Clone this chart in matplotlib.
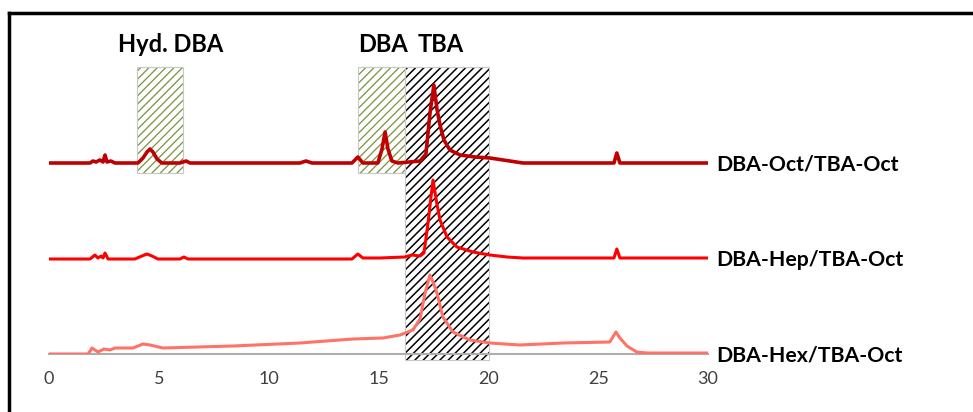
import matplotlib
matplotlib.use("Agg")
import matplotlib.pyplot as plt
from matplotlib.patches import Rectangle
from matplotlib.lines import Line2D

##################################
######## Data (read off) #########
##################################

# retention time (min) and detector signal (offset already applied per trace)
oct_x = [0.0, 1.87, 2.0, 2.14, 2.32, 2.46, 2.55, 2.64, 2.82, 3.0, 4.05, 4.28, 4.46, 4.6, 4.73,
         4.92, 5.14, 5.96, 6.24, 6.42, 11.42, 11.7, 11.97, 13.79, 14.06, 14.29, 14.97, 15.16,
         15.3, 15.43, 15.61, 15.89, 16.89, 17.16, 17.34, 17.52, 17.66, 17.8, 17.98, 18.25,
         18.71, 19.39, 20.07, 20.98, 21.57, 25.72, 25.85, 25.99, 30.0]
oct_y = [191, 191, 193, 192, 194, 192, 199, 192, 193, 191, 191, 196, 202, 205, 202,
         195, 191, 191, 193, 191, 191, 193, 191, 191, 197, 191, 191, 205,
         222, 205, 193, 191, 193, 200, 240, 269, 245, 229, 214, 204,
         199, 197, 196, 193, 191, 191, 201, 191, 191]

hep_x = [0.0, 1.87, 2.09, 2.23, 2.37, 2.46, 2.55, 2.69, 3.91, 4.23, 4.46, 4.69, 4.96, 5.96,
         6.14, 6.33, 13.79, 14.06, 14.29, 15.07, 16.2, 16.52, 16.89, 17.07, 17.25, 17.48,
         17.66, 17.8, 18.12, 18.57, 19.3, 20.07, 20.85, 21.57, 25.72, 25.85, 25.99, 30.0]
hep_y = [95, 95, 99, 96, 98, 96, 101, 95, 95, 98, 100, 98, 95, 95,
         97, 95, 95, 100, 96, 96, 97, 99, 98, 101, 130, 174,
         150, 134, 117, 107, 102, 99, 97, 96, 96, 105, 96, 96]

hex_x = [0.0, 1.78, 1.96, 2.23, 2.5, 2.78, 3.0, 3.82, 4.28, 4.6, 5.19, 8.37, 11.42, 13.84,
         15.2, 15.98, 16.57, 16.89, 17.11, 17.34, 17.52, 17.66, 17.93, 18.39, 19.16, 20.07,
         21.44, 23.4, 25.53, 25.81, 25.99, 26.31, 26.76, 27.22, 30.0]
hex_y = [0, 0, 6, 2, 5, 4, 6, 6, 10, 9, 6, 8, 11, 15,
         16, 19, 24, 35, 60, 79, 70, 61, 37, 22, 14, 11,
         9, 11, 12, 22, 16, 8, 2, 1, 1]

trace_names = ["DBA-Oct/TBA-Oct", "DBA-Hep/TBA-Oct", "DBA-Hex/TBA-Oct"]
trace_colors = ["#C00000", "#FF0000", "#FF7268"]

# highlighted windows (start, end) in minutes
hyd_dba_win = (4.0, 6.1)
dba_win = (14.05, 16.2)
tba_win = (16.2, 20.03)

x_ticks = [0, 5, 10, 15, 20, 25, 30]

##################################
############ Plotting ############
##################################

plt.rcParams["font.family"] = ["Lato", "DejaVu Sans"]

fig = plt.figure(figsize=(9.73, 4.12), dpi=100)
ax = fig.add_axes([49 / 973, 1 - 354 / 412, 659 / 973, 324 / 412])
ax.set_xlim(0, 30)
ax.set_ylim(0, 324)


def hatch_box(x0, x1, y0, y1, color, lw):
    # hatch drawn in its own colour, then a thin grey outline on top
    plt.rcParams["hatch.linewidth"] = lw
    ax.add_patch(Rectangle((x0, y0), x1 - x0, y1 - y0, facecolor="white",
                           edgecolor=color, hatch="////", linewidth=0,
                           clip_on=False, zorder=1))
    ax.add_patch(Rectangle((x0, y0), x1 - x0, y1 - y0, fill=False,
                           edgecolor="#C8C8C8", linewidth=0.8, clip_on=False, zorder=1.1))


hatch_box(hyd_dba_win[0], hyd_dba_win[1], 181, 287, "#77933C", 0.9)
hatch_box(dba_win[0], dba_win[1], 181, 287, "#77933C", 0.9)
hatch_box(tba_win[0], tba_win[1], -6, 287, "black", 1.1)

ax.plot(oct_x, oct_y, color=trace_colors[0], linewidth=2.6, solid_capstyle="round", zorder=3)
ax.plot(hep_x, hep_y, color=trace_colors[1], linewidth=2.2, solid_capstyle="round", zorder=3)
ax.plot(hex_x, hex_y, color=trace_colors[2], linewidth=2.2, solid_capstyle="round", zorder=3)

# labels at right end of each trace
for name, yb in zip(trace_names, [183, 88, -8]):
    ax.text(30.36, yb, name, fontsize=15.3, fontweight="bold", ha="left", va="baseline",
            color="black", clip_on=False)

# window labels
ax.text(5.53, 302, "Hyd. DBA", fontsize=17, fontweight="bold", ha="center", va="baseline")
ax.text(15.2, 302, "DBA", fontsize=17, fontweight="bold", ha="center", va="baseline")
ax.text(17.84, 302, "TBA", fontsize=17, fontweight="bold", ha="center", va="baseline")

# axes styling: only a grey baseline
for side in ["left", "right", "top"]:
    ax.spines[side].set_visible(False)
ax.spines["bottom"].set_color("#ADADAD")
ax.spines["bottom"].set_linewidth(1.5)
ax.spines["bottom"].set_zorder(2)
ax.set_yticks([])
ax.set_xticks(x_ticks)
ax.set_xticklabels([str(t) for t in x_ticks])
ax.tick_params(axis="x", length=0, pad=12, labelsize=13, labelcolor="#404040")

# outer frame (only top and left edges are inside the picture)
fig.add_artist(Line2D([9 / 973, 1.0], [1 - 13 / 412, 1 - 13 / 412], color="black",
                      linewidth=2.5, transform=fig.transFigure))
fig.add_artist(Line2D([9 / 973, 9 / 973], [0.0, 1 - 13 / 412], color="black",
                      linewidth=2.5, transform=fig.transFigure))

fig.savefig("out.png", dpi=100)
